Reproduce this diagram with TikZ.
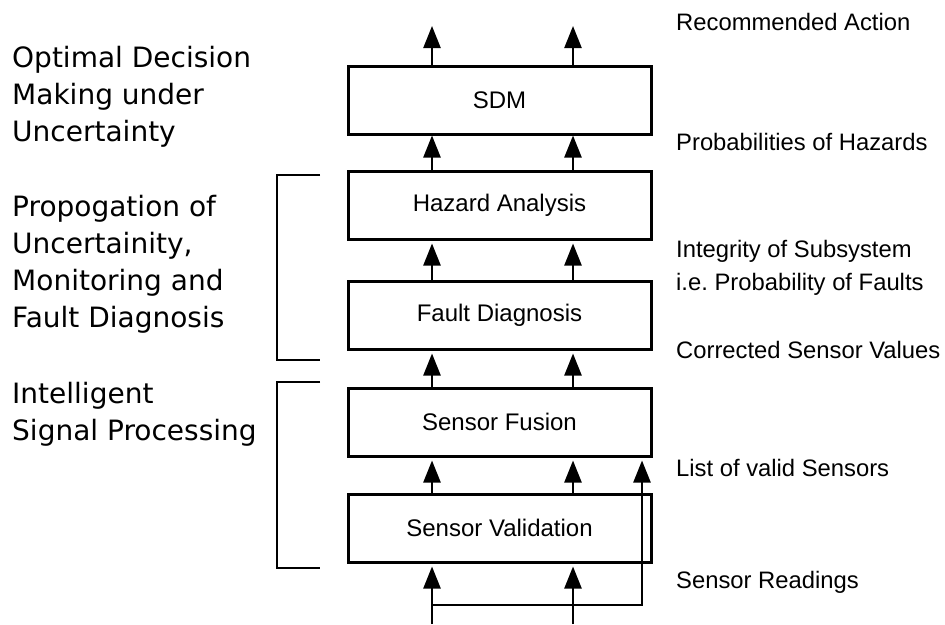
\documentclass[tikz,border=0pt]{standalone}
\usepackage{fontspec}
\setmainfont{Liberation Sans}
\newfontfamily\leftfont{DejaVu Sans}
\usetikzlibrary{arrows.meta}
\frenchspacing
\begin{document}
\begin{tikzpicture}[x=1pt,y=-1pt,
  blk/.style={draw,line width=3pt,minimum width=303pt,minimum height=68pt,inner sep=0pt,font=\fontsize{24}{28}\selectfont},
  arr/.style={line width=2.4pt,-{Triangle[length=22pt,width=17pt]},shorten >=3pt},
  brk/.style={line width=2pt},
  rlab/.style={anchor=base west,inner sep=0pt,font=\fontsize{23.8}{28}\selectfont},
  llab/.style={anchor=base west,inner sep=0pt,font=\leftfont\fontsize{28}{37}\selectfont}]
\useasboundingbox (0,0) rectangle (945,624);

% boxes
\node[blk] (sdm)   at (499.5,100) {SDM};
\node[blk] (haz)   at (499.5,205) {Hazard Analysis};
\node[blk] (fault) at (499.5,315) {Fault Diagnosis};
\node[blk] (fus)   at (499.5,422) {Sensor Fusion};
\node[blk] (val)   at (499.5,528) {Sensor Validation};

% column coordinates
\coordinate (cl) at (432,0);
\coordinate (cr) at (573,0);
\coordinate (tl) at (432,26);
\coordinate (tr) at (573,26);
\coordinate (bl) at (432,624);
\coordinate (br) at (573,624);
\coordinate (hl) at (432,605);
\coordinate (hr) at (642,605);

% arrows
\draw[arr,shorten >=0pt] (sdm.north -| cl) -- (tl);
\draw[arr,shorten >=0pt] (sdm.north -| cr) -- (tr);
\draw[arr,shorten >=0pt] (haz.north -| cl) -- (sdm.south -| cl);
\draw[arr,shorten >=0pt] (haz.north -| cr) -- (sdm.south -| cr);
\draw[arr] (fault.north -| cl) -- (haz.south -| cl);
\draw[arr] (fault.north -| cr) -- (haz.south -| cr);
\draw[arr] (fus.north -| cl) -- (fault.south -| cl);
\draw[arr] (fus.north -| cr) -- (fault.south -| cr);
\draw[arr] (val.north -| cl) -- (fus.south -| cl);
\draw[arr] (val.north -| cr) -- (fus.south -| cr);
\draw[arr] (bl) -- (val.south -| cl);
\draw[arr] (br) -- (val.south -| cr);
\draw[arr] (hl) -- (hr) -- (fus.south -| hr);

% brackets
\coordinate (b1a) at (320,175); \coordinate (b1b) at (277,175);
\coordinate (b1c) at (277,360); \coordinate (b1d) at (320,360);
\draw[brk] (b1a) -- (b1b) -- (b1c) -- (b1d);
\coordinate (b2a) at (320,382); \coordinate (b2b) at (277,382);
\coordinate (b2c) at (277,568); \coordinate (b2d) at (320,568);
\draw[brk] (b2a) -- (b2b) -- (b2c) -- (b2d);

% right labels
\node[rlab] (r1) at (676,30)  {Recommended Action};
\node[rlab] (r2) at (676,150) {Probabilities of Hazards};
\node[rlab] (r3) at (676,257) {Integrity of Subsystem};
\node[rlab] (r4) at (676,290) {i.e.\ Probability of Faults};
\node[rlab] (r5) at (676,358) {Corrected Sensor Values};
\node[rlab] (r6) at (676,476) {List of valid Sensors};
\node[rlab] (r7) at (676,588) {Sensor Readings};

% left labels
\node[llab] (l1) at (12,67)  {Optimal Decision};
\node[llab] (l2) at (12,104) {Making under};
\node[llab] (l3) at (12,141) {Uncertainty};
\node[llab] (l4) at (12,216) {Propogation of};
\node[llab] (l5) at (12,253) {Uncertainity,};
\node[llab] (l6) at (12,290) {Monitoring and};
\node[llab] (l7) at (12,327) {Fault Diagnosis};
\node[llab] (l8) at (12,403) {Intelligent};
\node[llab] (l9) at (12,440) {Signal Processing};
\end{tikzpicture}
\end{document}
